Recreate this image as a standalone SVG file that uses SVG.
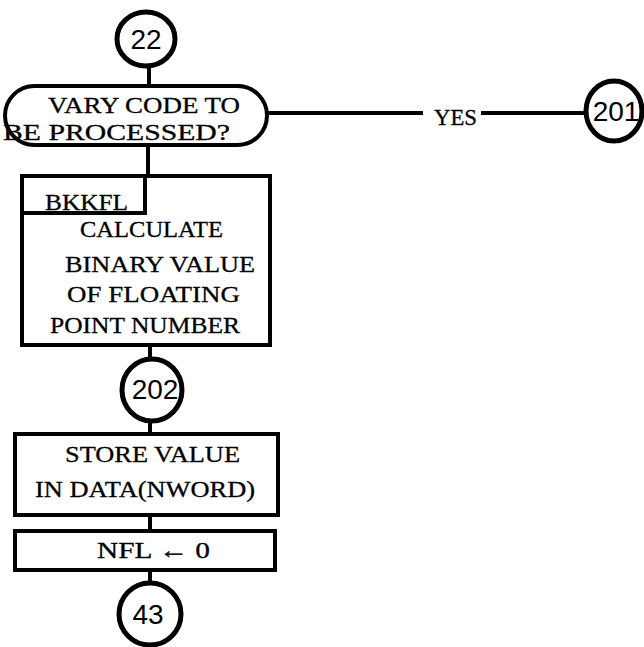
<svg xmlns="http://www.w3.org/2000/svg" width="644" height="647" viewBox="0 0 644 647">
<style>
.shape{fill:#fff;stroke:#000;stroke-width:4}
.circ{fill:#fff;stroke:#000;stroke-width:5}
.conn{stroke:#000;stroke-width:4;fill:none}
.tw{font-family:"Liberation Serif","Times New Roman",serif;font-size:24px;fill:#000;stroke:#000;stroke-width:0.3}
.num{font-family:"Liberation Sans",Arial,sans-serif;font-size:28px;fill:#000;text-anchor:middle}
</style>
<rect width="644" height="647" fill="#fff"/>
<g id="connectors">
<line class="conn" x1="149" y1="66" x2="149" y2="87"/>
<line class="conn" x1="267" y1="113" x2="423" y2="113"/>
<line class="conn" x1="481" y1="113" x2="586" y2="113"/>
<line class="conn" x1="148" y1="145" x2="148" y2="176"/>
<line class="conn" x1="150" y1="345" x2="150" y2="359"/>
<line class="conn" x1="150" y1="421" x2="150" y2="434"/>
<line class="conn" x1="150" y1="515" x2="150" y2="531"/>
<line class="conn" x1="150" y1="570" x2="150" y2="583"/>
<text class="tw" x="434" y="125" textLength="43" lengthAdjust="spacingAndGlyphs">YES</text>
</g>
<g id="n22">
<ellipse class="circ" cx="146" cy="39" rx="29" ry="27"/>
<text class="num" x="146" y="49">22</text>
</g>
<g id="decision">
<rect class="shape" x="5" y="86" width="262" height="59" rx="29.5"/>
<text class="tw" x="48" y="113" textLength="192" lengthAdjust="spacingAndGlyphs">VARY CODE TO</text>
<text class="tw" x="3" y="140" textLength="227" lengthAdjust="spacingAndGlyphs">BE PROCESSED?</text>
</g>
<g id="n201">
<ellipse class="circ" cx="614" cy="111" rx="28" ry="30"/>
<text class="num" x="616" y="121">201</text>
</g>
<g id="bkkfl">
<rect class="shape" x="22" y="176" width="248" height="169"/>
<path class="conn" d="M22 213 H145 V176"/>
<text class="tw" x="45" y="210" textLength="83" lengthAdjust="spacingAndGlyphs">BKKFL</text>
<text class="tw" x="80" y="237" textLength="143" lengthAdjust="spacingAndGlyphs">CALCULATE</text>
<text class="tw" x="65" y="272" textLength="190" lengthAdjust="spacingAndGlyphs">BINARY VALUE</text>
<text class="tw" x="67" y="302" textLength="173" lengthAdjust="spacingAndGlyphs">OF FLOATING</text>
<text class="tw" x="50" y="333" textLength="190" lengthAdjust="spacingAndGlyphs">POINT NUMBER</text>
</g>
<g id="n202">
<ellipse class="circ" cx="152" cy="390" rx="30" ry="31"/>
<text class="num" x="155" y="399">202</text>
</g>
<g id="store">
<rect class="shape" x="15" y="434" width="263" height="81"/>
<text class="tw" x="65" y="462" textLength="175" lengthAdjust="spacingAndGlyphs">STORE VALUE</text>
<text class="tw" x="35" y="497" textLength="220" lengthAdjust="spacingAndGlyphs">IN DATA(NWORD)</text>
</g>
<g id="nfl">
<rect class="shape" x="15" y="531" width="260" height="39"/>
<text class="tw" x="97" y="558" textLength="113" lengthAdjust="spacingAndGlyphs">NFL ← 0</text>
</g>
<g id="n43">
<ellipse class="circ" cx="150" cy="614" rx="31" ry="31"/>
<text class="num" x="148" y="624">43</text>
</g>
</svg>
